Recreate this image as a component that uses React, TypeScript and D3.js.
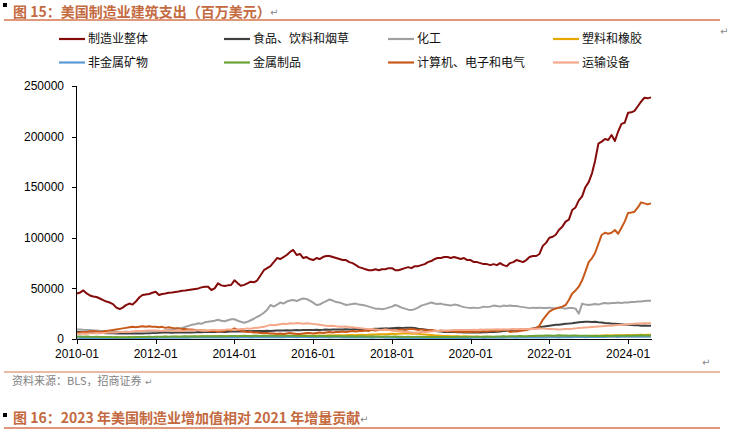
import React from "react";
import * as d3 from "d3";

// Months 2010-01 .. 2024-08
const months: Date[] = d3.timeMonth.range(new Date(2010, 0, 1), new Date(2024, 8, 1));
const xTickYears = [2010, 2012, 2014, 2016, 2018, 2020, 2022, 2024];
const yTicks = [0, 50000, 100000, 150000, 200000, 250000];
const UNIT = 1000; // series below are in thousands of million USD

const seriesNames = [
  "制造业整体",
  "食品、饮料和烟草",
  "化工",
  "塑料和橡胶",
  "非金属矿物",
  "金属制品",
  "计算机、电子和电气",
  "运输设备",
];
const seriesColors = ["#850A0A", "#404040", "#A0A0A0", "#E6A700", "#5B9BD5", "#6AA336", "#C8591A", "#F4A889"];

const total = [
  45, 46, 48, 45, 43, 42, 41.5, 40, 38.5, 37, 36, 34.5,
  31, 29.6, 31, 33.5, 35, 34, 37, 41, 43.5, 44, 44.5, 45.7,
  46.7, 43.5, 44.5, 45, 45.7, 46, 46.5, 47, 47.7, 48, 48.5, 49,
  49.5, 50, 51, 51.7, 51.7, 48.4, 50, 55, 53, 52.4, 53, 53.4,
  58, 55, 52.7, 53.5, 55, 56.6, 56, 58, 63, 68, 70, 72,
  76, 80, 79, 81, 83, 86, 88, 83, 84, 80, 81, 79,
  78, 80, 79, 81, 82, 82, 81, 80, 79, 78, 78, 76,
  75, 73, 71, 70, 69, 68, 68, 69, 68, 69, 69, 70,
  70, 68, 68, 69, 70, 71, 70, 72, 72, 73, 74, 76,
  77, 79, 80, 80, 81, 81, 80, 81, 80, 79, 80, 78,
  78, 76, 76, 75, 74, 74, 73, 74, 73, 75, 73, 72,
  75, 76, 78, 77, 76, 78, 81, 82, 82, 84, 92, 95,
  100, 101, 103, 108, 111, 116, 118, 127.5, 130, 137, 141, 150,
  155, 164, 176, 193, 195, 197.6, 196.6, 201.6, 195.6, 205, 212.6, 213.7,
  223.5, 224, 225.5, 230, 234.5, 238.4, 237.8, 238.8,
];

const food = [
  7, 7, 6.8, 6.5, 6.5, 6.3, 6.2, 6, 6, 5.8, 5.8, 5.6,
  5.5, 5.5, 5.6, 5.5, 5.4, 5.5, 5.6, 5.5, 5.5, 5.6, 5.8, 6,
  6, 6.2, 6.3, 6.5, 6.3, 6.2, 6.4, 6.5, 6.6, 6.5, 6.4, 6.5,
  6.6, 6.8, 6.7, 6.8, 7, 6.9, 7, 7.2, 7.1, 7, 7.2, 7.3,
  7.3, 7.5, 7.4, 7.6, 7.8, 7.6, 7.8, 8, 7.9, 8, 8.2, 8,
  8.2, 8.4, 8.3, 8.5, 8.6, 8.5, 8.7, 8.8, 8.6, 8.8, 9, 8.9,
  9, 9.2, 9, 9.1, 9.3, 9.2, 9.4, 9.5, 9.3, 9.5, 9.6, 9.5,
  9.6, 9.8, 9.7, 9.9, 10, 9.8, 10, 10.2, 10.1, 10.3, 10.5, 10.4,
  10.6, 10.8, 11, 10.9, 11, 11.2, 11, 10.8, 10.2, 9.8, 9.3, 8.8,
  8.3, 8, 7.6, 7.3, 7, 7.1, 6.9, 6.8, 6.6, 6.7, 6.5, 6.6,
  6.5, 6.4, 6.6, 6.5, 6.7, 6.6, 6.8, 7, 7.2, 7.5, 7.8, 8.2,
  8.5, 8.8, 9, 9.2, 9, 9.5, 10, 10.5, 11, 11.5, 12, 12.5,
  13, 13.5, 14, 14, 14.5, 15, 15.2, 15.5, 16, 16.5, 16.8, 17,
  17, 16.8, 17, 16.5, 16.2, 15.8, 15.5, 15.2, 15, 14.8, 14.5, 14.2,
  14, 13.8, 13.5, 13.5, 13.2, 13.3, 13, 13,
];

const chemicals = [
  9.5, 9.5, 9.2, 9, 8.8, 8.5, 8.5, 8.2, 8, 8, 7.8, 7.5,
  7.5, 7.2, 7, 7.2, 7, 6.8, 7, 7.2, 7, 7.5, 7.2, 7.5,
  7.5, 7.8, 8, 8.5, 9, 9.5, 10, 10.5, 11, 12, 13, 14,
  14.5, 15.5, 15, 16.5, 17, 17.5, 18, 19, 18, 17.5, 18.5, 19.5,
  19.5, 18, 17, 16, 17, 18.5, 20, 22, 23.7, 26, 29, 33.6,
  32, 34, 36, 35, 37, 38, 38.5, 37.5, 39, 40, 39.5, 38,
  36, 33.6, 34, 36, 37.5, 39, 38, 36.5, 36, 35, 33.6, 34,
  34.5, 35, 34, 33.6, 33, 32, 31, 30, 30, 29.3, 30, 31,
  32, 33.6, 32.6, 31, 30, 29, 28.7, 29.5, 31, 33, 34, 35,
  36, 35, 34.5, 35, 34, 33.6, 33, 34, 33.6, 32.5, 31.5, 31,
  30.6, 31, 30.5, 31, 32, 31.5, 32, 33, 32.5, 32, 33, 32.6,
  33, 32.6, 32.6, 32, 31.5, 31, 30.5, 31, 30.6, 31, 30.6, 30.6,
  31, 30.5, 30.6, 31, 30.5, 30, 30.6, 30.6, 30, 25, 35, 34,
  33.5, 34, 34.5, 34, 35, 35.5, 35, 35.5, 35.5, 36, 35.5, 36,
  36, 36.5, 36.5, 37, 37, 37.5, 37.8, 37.8,
];

const plastics = [
  1.8, 1.7, 1.9, 1.8, 1.6, 1.7, 1.8, 1.6, 1.5, 1.6, 1.7, 1.5,
  1.6, 1.5, 1.4, 1.6, 1.5, 1.7, 1.6, 1.8, 1.7, 1.9, 1.8, 2.0,
  2.0, 1.9, 2.1, 2.2, 2.0, 2.1, 2.3, 2.2, 2.1, 2.3, 2.2, 2.4,
  2.3, 2.5, 2.4, 2.6, 2.5, 2.4, 2.6, 2.7, 2.5, 2.6, 2.8, 2.7,
  2.6, 2.8, 2.9, 2.7, 2.8, 3.0, 2.9, 2.8, 3.0, 3.1, 2.9, 3.0,
  3.1, 3.0, 3.2, 3.1, 2.9, 3.0, 3.2, 3.3, 3.1, 3.2, 3.4, 3.3,
  3.2, 3.4, 3.5, 3.3, 3.5, 3.6, 3.4, 3.6, 3.7, 3.5, 3.8, 3.9,
  4.0, 3.8, 4.1, 4.2, 4.0, 4.3, 4.5, 4.4, 4.6, 4.8, 4.7, 5.0,
  5.2, 5.0, 5.3, 5.5, 5.4, 5.6, 5.3, 5.5, 5.2, 4.8, 4.5, 4.2,
  3.9, 3.6, 3.4, 3.2, 3.0, 2.9, 2.8, 2.6, 2.7, 2.5, 2.6, 2.4,
  2.5, 2.3, 2.4, 2.2, 2.3, 2.1, 2.2, 2.0, 2.1, 2.0, 2.2, 2.1,
  2.2, 2.0, 2.1, 2.3, 2.2, 2.1, 2.3, 2.2, 2.4, 2.3, 2.5, 2.4,
  2.6, 2.5, 2.4, 2.6, 2.5, 2.7, 2.6, 2.8, 2.7, 2.9, 3.0, 2.8,
  3.0, 3.2, 3.1, 3.3, 3.5, 3.4, 3.6, 3.5, 3.7, 3.6, 3.8, 3.7,
  3.9, 3.8, 4.0, 3.9, 4.1, 4.0, 4.2, 4.1,
];

const minerals = [
  1.2, 1.1, 1.2, 1.0, 1.1, 1.0, 0.9, 1.0, 0.9, 1.0, 0.9, 0.8,
  0.9, 0.8, 0.9, 0.8, 0.9, 1.0, 0.9, 1.0, 1.1, 1.0, 1.1, 1.2,
  1.1, 1.2, 1.3, 1.2, 1.3, 1.4, 1.3, 1.2, 1.3, 1.4, 1.3, 1.4,
  1.5, 1.4, 1.5, 1.6, 1.5, 1.4, 1.5, 1.6, 1.7, 1.6, 1.5, 1.6,
  1.7, 1.6, 1.7, 1.8, 1.7, 1.6, 1.7, 1.8, 1.9, 1.8, 1.7, 1.8,
  1.9, 1.8, 1.7, 1.8, 1.9, 2.0, 1.9, 1.8, 1.9, 2.0, 1.9, 1.8,
  1.7, 1.8, 1.9, 1.8, 1.7, 1.6, 1.7, 1.8, 1.7, 1.6, 1.5, 1.6,
  1.5, 1.4, 1.5, 1.6, 1.5, 1.4, 1.3, 1.4, 1.5, 1.4, 1.3, 1.2,
  1.3, 1.2, 1.1, 1.2, 1.1, 1.0, 1.1, 1.2, 1.1, 1.0, 1.1, 1.0,
  0.9, 1.0, 1.1, 1.0, 0.9, 1.0, 1.1, 1.2, 1.1, 1.0, 1.1, 1.2,
  1.1, 1.2, 1.3, 1.2, 1.1, 1.2, 1.3, 1.4, 1.3, 1.2, 1.3, 1.4,
  1.5, 1.4, 1.3, 1.4, 1.5, 1.6, 1.5, 1.4, 1.5, 1.6, 1.7, 1.6,
  1.7, 1.8, 1.7, 1.6, 1.7, 1.8, 1.9, 1.8, 1.9, 2.0, 1.9, 1.8,
  1.9, 2.0, 2.1, 2.0, 1.9, 2.0, 2.1, 2.2, 2.1, 2.0, 2.1, 2.2,
  2.1, 2.2, 2.3, 2.2, 2.1, 2.2, 2.3, 2.2,
];

const metals = [
  2.5, 2.4, 2.3, 2.4, 2.2, 2.1, 2.2, 2.0, 2.1, 1.9, 2.0, 1.8,
  1.9, 1.8, 1.7, 1.8, 1.9, 1.8, 2.0, 1.9, 2.1, 2.0, 2.2, 2.1,
  2.2, 2.3, 2.2, 2.4, 2.3, 2.5, 2.4, 2.3, 2.5, 2.6, 2.4, 2.5,
  2.6, 2.5, 2.7, 2.6, 2.8, 2.7, 2.6, 2.8, 2.9, 2.7, 2.8, 3.0,
  2.9, 2.8, 3.0, 3.1, 2.9, 3.0, 3.2, 3.1, 3.0, 3.2, 3.1, 3.3,
  3.2, 3.1, 3.3, 3.4, 3.2, 3.3, 3.1, 3.2, 3.0, 3.1, 2.9, 3.0,
  2.9, 2.8, 3.0, 2.9, 2.8, 2.7, 2.9, 2.8, 2.7, 2.6, 2.8, 2.7,
  2.6, 2.5, 2.7, 2.6, 2.5, 2.4, 2.6, 2.5, 2.4, 2.3, 2.5, 2.4,
  2.3, 2.4, 2.2, 2.3, 2.1, 2.2, 2.0, 2.1, 2.2, 2.0, 2.1, 1.9,
  2.0, 1.9, 2.1, 2.0, 1.9, 2.0, 2.1, 2.0, 2.2, 2.1, 2.0, 2.2,
  2.1, 2.3, 2.2, 2.1, 2.3, 2.4, 2.2, 2.3, 2.5, 2.4, 2.6, 2.5,
  2.7, 2.6, 2.8, 2.9, 2.7, 2.8, 3.0, 2.9, 3.1, 3.3, 3.2, 3.4,
  3.5, 3.3, 3.4, 3.6, 3.5, 3.4, 3.3, 3.5, 3.4, 3.2, 3.3, 3.1,
  3.2, 3.0, 3.1, 2.9, 3.0, 3.1, 2.9, 3.0, 3.2, 3.1, 3.3, 3.2,
  3.4, 3.3, 3.5, 3.4, 3.6, 3.5, 3.4, 3.5,
];

const electronics = [
  6, 6.5, 7, 6.8, 7.5, 8, 7.5, 7, 7.5, 8, 8.5, 9,
  9.5, 10, 10.5, 11, 11.5, 12, 11.5, 12, 12.5, 12, 12.5, 12,
  12, 11.5, 12, 11, 11.5, 11, 10.5, 10.5, 10, 10, 9.5, 9.5,
  9, 9, 8.5, 8.5, 8, 8, 8, 7.5, 8, 8, 9, 8.5,
  10.5, 9, 8, 7.5, 7, 7, 6.5, 6.5, 6, 6, 6, 5.5,
  5.5, 5, 5.5, 5, 5.5, 6, 5.5, 5, 5, 5.5, 6, 6,
  5.5, 6, 6.5, 6, 6.5, 7, 6.5, 7, 7, 7.5, 7, 7.5,
  8, 7.5, 8, 8, 8.5, 8, 9, 8.5, 9, 9, 9.5, 9,
  9, 8.5, 9, 9.5, 9, 9.5, 10, 9.5, 9, 9.5, 9, 8.5,
  9, 8.5, 8, 8.5, 8, 7.5, 8, 7.5, 7, 7.5, 7, 7,
  7, 7.5, 7, 7.5, 8, 7.5, 8, 8.5, 8, 8.5, 9, 9,
  7, 7.5, 7.5, 8, 8.5, 9, 9.5, 10, 11, 13, 19, 23,
  27, 29, 30, 31, 32, 33.6, 38.5, 45, 48, 51.7, 58, 66.5,
  76, 80, 85, 94, 102.8, 105, 104, 105, 107.7, 104, 110, 116,
  124.5, 125, 125.8, 130, 135, 134, 133, 134,
];

const transport = [
  5, 5.2, 5.5, 5.3, 5.6, 5.8, 6, 5.8, 6, 6.2, 6.5, 6.3,
  6.5, 6.8, 7, 7.2, 7, 7.5, 7.8, 8, 7.8, 8.2, 8.5, 8.3,
  8.5, 8.2, 8, 8.3, 8.5, 8.2, 8, 7.8, 8, 8.2, 8.5, 8.3,
  8.5, 8.8, 8.5, 8.2, 8.5, 8.8, 9, 8.7, 9, 9.2, 9.5, 9.3,
  9, 9.5, 9.8, 10, 10.5, 10.2, 10.8, 11, 11.5, 12, 13, 14,
  13.5, 14, 14.5, 15, 14.8, 15.5, 15.2, 15.8, 15.5, 15, 15.5, 15.2,
  14.8, 14.5, 14, 13.5, 13.2, 12.8, 13, 12.5, 12.2, 12, 12.3, 11.8,
  11.5, 11, 10.8, 10.5, 10.2, 10, 9.8, 9.5, 9.2, 9, 9.3, 8.8,
  8.5, 8.2, 8, 7.5, 7, 6.8, 6.5, 6.2, 6.5, 6.8, 7, 7.2,
  7.5, 7.8, 8, 8.2, 8.5, 8.3, 8.6, 8.8, 9, 8.8, 9, 8.9,
  9, 9.2, 9, 9.3, 9.2, 9.4, 9.5, 9.3, 9.6, 9.5, 9.7, 9.5,
  9.6, 9.8, 9.7, 9.9, 10, 9.8, 10, 10.2, 10, 10.3, 10.5, 10.2,
  10, 9.8, 9.7, 9.5, 9.6, 9.8, 10, 10.2, 10.5, 10.8, 11, 11.3,
  11.5, 11.8, 12, 12.3, 12.5, 12.8, 13, 13.2, 13.5, 13.8, 14, 14.2,
  14.5, 14.8, 15, 15.2, 15.3, 15.5, 15.5, 15.6,
];

const seriesValues = [total, food, chemicals, plastics, minerals, metals, electronics, transport];

const W = 729;
const H = 437;
const CJK = '"Noto Sans CJK SC", "Noto Sans", sans-serif';
const LAT = '"Liberation Sans", Arial, sans-serif';
const TITLE_COLOR = "#C46A40";
const RULE_COLOR = "#D4764E";

export default function App() {
  const x = d3.scaleTime().domain([months[0], months[months.length - 1]]).range([77, 651]);
  const y = d3.scaleLinear().domain([0, 250000]).range([339, 86]);
  const line = d3
    .line<number>()
    .x((_, i) => x(months[i]))
    .y((d) => y(d * UNIT));

  const legendCols = [59, 224, 388, 553];
  const legendRows = [39, 62.5];

  return (
    <svg width={W} height={H} style={{ position: "absolute", left: 0, top: 0, background: "#fff" }}>
      {/* Header */}
      <rect x={3} y={3} width={4} height={4} fill="#000" />
      <text x={13} y={16.5} fontFamily={CJK} fontSize={14} fontWeight="bold" fill={TITLE_COLOR}>
        图 15：美国制造业建筑支出（百万美元）
      </text>
      <text x={270} y={16} fontFamily="DejaVu Sans" fontSize={10} fill="#888">↵</text>
      <line x1={4} x2={720} y1={20} y2={20} stroke={RULE_COLOR} strokeWidth={1.5} />
      <text x={720} y={35} fontFamily="DejaVu Sans" fontSize={10} fill="#888">↵</text>

      {/* Legend */}
      {seriesNames.map((name, k) => {
        const cx = legendCols[k % 4];
        const cy = legendRows[Math.floor(k / 4)];
        return (
          <g key={name}>
            <line x1={cx} x2={cx + 26} y1={cy} y2={cy} stroke={seriesColors[k]} strokeWidth={2.2} />
            <text x={cx + 29} y={cy} dy="0.35em" fontFamily={CJK} fontSize={12} fill="#111">
              {name}
            </text>
          </g>
        );
      })}

      {/* Axes */}
      <line x1={76.5} x2={76.5} y1={86} y2={339} stroke="#000" strokeWidth={1} />
      {yTicks.map((t) => (
        <g key={t}>
          <line x1={72} x2={76.5} y1={Math.round(y(t)) + 0.5} y2={Math.round(y(t)) + 0.5} stroke="#000" />
          <text x={64} y={y(t)} dy="0.35em" textAnchor="end" fontFamily={LAT} fontSize={12} fill="#000">
            {t}
          </text>
        </g>
      ))}

      {/* Series lines */}
      {seriesValues.map((vals, k) => (
        <path
          key={seriesNames[k]}
          d={line(vals) || ""}
          fill="none"
          stroke={seriesColors[k]}
          strokeWidth={2}
          strokeLinejoin="round"
        />
      ))}

      <line x1={76.5} x2={652} y1={339.5} y2={339.5} stroke="#000" strokeWidth={1} />
      {xTickYears.map((yr) => {
        const d = new Date(yr, 0, 1);
        const px = Math.round(x(d)) + 0.5;
        return (
          <g key={yr}>
            <line x1={px} x2={px} y1={339.5} y2={344} stroke="#000" />
            <text x={x(d)} y={358} textAnchor="middle" fontFamily={LAT} fontSize={12} fill="#000">
              {d3.timeFormat("%Y-%m")(d)}
            </text>
          </g>
        );
      })}

      <text x={702} y={366} fontFamily="DejaVu Sans" fontSize={10} fill="#888">↵</text>

      {/* Footer */}
      <line x1={4} x2={720} y1={372} y2={372} stroke={RULE_COLOR} strokeWidth={1.2} />
      <text x={12} y={385} fontFamily={CJK} fontSize={11} fill="#7F7F7F">
        资料来源：BLS，招商证券
      </text>
      <text x={145} y={385} fontFamily="DejaVu Sans" fontSize={9} fill="#888">↵</text>

      <rect x={3} y={413} width={4} height={4} fill="#000" />
      <text x={13} y={423} fontFamily={CJK} fontSize={14} fontWeight="bold" fill={TITLE_COLOR}>
        图 16：2023 年美国制造业增加值相对 2021 年增量贡献
      </text>
      <text x={360} y={423} fontFamily="DejaVu Sans" fontSize={10} fill="#888">↵</text>
      <line x1={4} x2={720} y1={428} y2={428} stroke={RULE_COLOR} strokeWidth={1.5} />
    </svg>
  );
}
